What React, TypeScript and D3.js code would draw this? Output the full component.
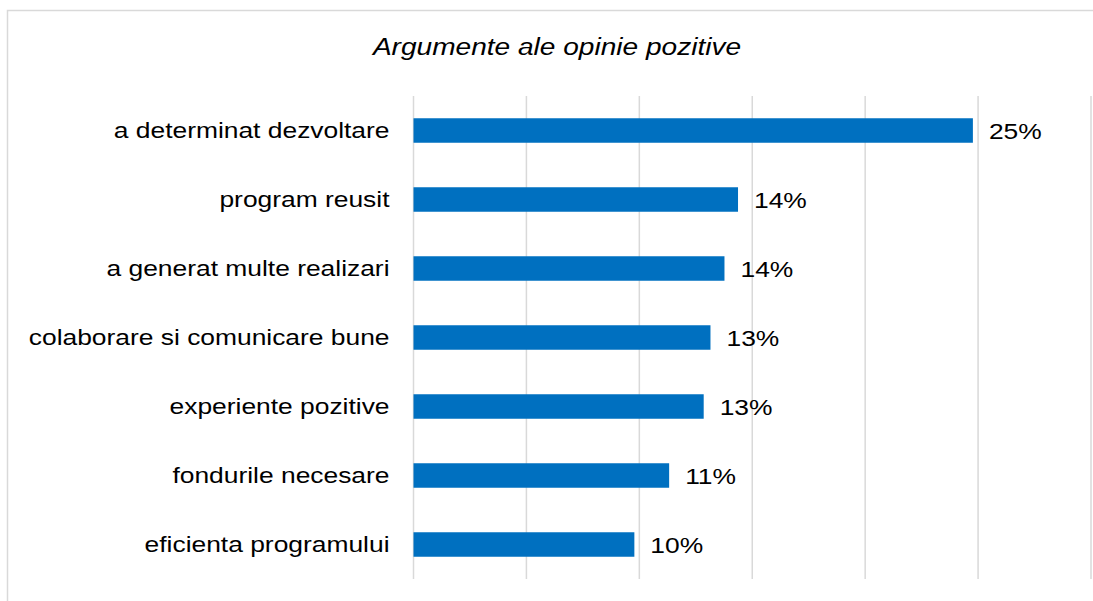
import React from "react";
import * as d3 from "d3";

const categories: string[] = [
  "a determinat dezvoltare",
  "program reusit",
  "a generat multe realizari",
  "colaborare si comunicare bune",
  "experiente pozitive",
  "fondurile necesare",
  "eficienta programului",
];
const values: number[] = [24.77, 14.37, 13.77, 13.15, 12.85, 11.32, 9.78];
const valueLabels: string[] = ["25%", "14%", "14%", "13%", "13%", "11%", "10%"];
const xTicks: number[] = [0, 5, 10, 15, 20, 25, 30];
const title = "Argumente ale opinie pozitive";

const W = 1093;
const H = 601;
const FONT = "'Liberation Sans', Arial, sans-serif";
const SX = 1.2; // horizontal stretch of the source image

export default function App() {
  const x = d3.scaleLinear().domain([0, 30]).range([413.5, 1091]);
  const y = d3
    .scaleBand<string>()
    .domain(categories)
    .range([96, 579])
    .paddingInner(0.645)
    .paddingOuter(0.3225);
  const bw = y.bandwidth();
  return (
    <svg
      width={W}
      height={H}
      style={{ position: "absolute", left: 0, top: 0, background: "#fff" }}
    >
      <rect x={7.5} y={10.5} width={1110} height={620} fill="#fff" stroke="#d9d9d9" strokeWidth={1.5} />
      <text
        transform={`translate(557,${55}) scale(1.17,1)`}
        textAnchor="middle"
        fontFamily={FONT}
        fontStyle="italic"
        fontSize={24}
        fill="#000"
      >
        {title}
      </text>
      {xTicks.map((t) => (
        <line
          key={t}
          x1={x(t)}
          x2={x(t)}
          y1={96}
          y2={579}
          stroke="#d9d9d9"
          strokeWidth={1.5}
        />
      ))}
      {categories.map((c, i) => {
        const yc = (y(c) as number) + bw / 2;
        return (
          <g key={c}>
            <rect
              x={x(0)}
              y={y(c) as number}
              width={x(values[i]) - x(0)}
              height={bw}
              fill="#0070C0"
            />
            <text
              transform={`translate(389.5,${yc}) scale(${SX},1)`}
              textAnchor="end"
              dy="0.35em"
              fontFamily={FONT}
              fontSize={22}
              fill="#000"
            >
              {c}
            </text>
            <text
              transform={`translate(${x(values[i]) + 16},${yc}) scale(${SX},1)`}
              textAnchor="start"
              dy="0.4em"
              fontFamily={FONT}
              fontSize={22}
              fill="#000"
            >
              {valueLabels[i]}
            </text>
          </g>
        );
      })}
    </svg>
  );
}
